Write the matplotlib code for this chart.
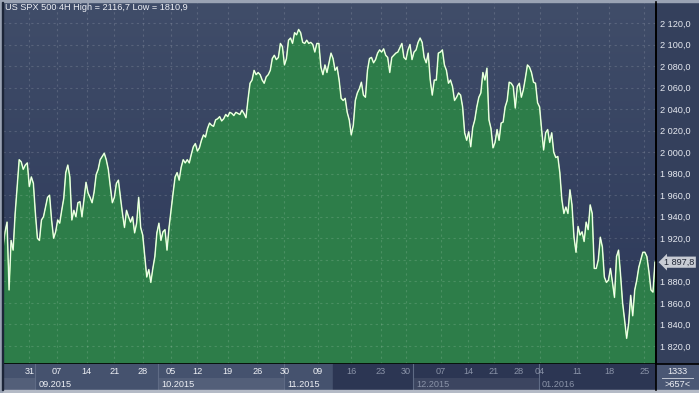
#Gráfico 4H del US SPX 500 (sep 2015 - ene 2016), estilo terminal de trading.

import numpy as np
import matplotlib
matplotlib.use("Agg")
from matplotlib import pyplot as plt
from matplotlib import transforms
from matplotlib.colors import LinearSegmentedColormap
from matplotlib.patches import Rectangle
from matplotlib.lines import Line2D

plt.rcParams['font.family'] = ['Liberation Sans', 'DejaVu Sans']

#precios de cierre 4H
precios_sep_oct = [1911, 1926, 1935, 1872, 1918, 1909, 1943, 1968, 1993, 1991,
                   1984, 1988, 1990, 1968, 1977, 1971, 1943, 1920, 1918, 1937,
                   1940, 1949, 1958, 1960, 1937, 1920, 1926, 1937, 1934, 1946,
                   1957, 1981, 1988, 1977, 1937, 1946, 1940, 1953, 1954, 1940,
                   1956, 1972, 1962, 1958, 1953, 1963, 1979, 1984, 1993, 1996,
                   1999, 1993, 1984, 1968, 1953, 1958, 1971, 1974, 1958, 1943,
                   1930, 1946, 1940, 1935, 1940, 1925, 1934, 1958, 1930, 1923,
                   1903, 1884, 1891, 1879, 1892, 1903, 1925, 1934, 1918, 1926,
                   1928, 1909, 1930, 1946, 1962, 1977, 1981, 1974, 1986, 1993,
                   1990, 1993, 1990]
precios_oct = [1998, 2005, 2008, 2001, 2004, 2011, 2016, 2014, 2022, 2027,
               2025, 2024, 2030, 2031, 2033, 2029, 2031, 2035, 2033, 2037,
               2036, 2034, 2037, 2036, 2035, 2039, 2036, 2032]
precios_nov_ene = [2049, 2064, 2067, 2076, 2072, 2074, 2072, 2067, 2064, 2070,
                   2072, 2076, 2087, 2090, 2086, 2088, 2101, 2098, 2081, 2087,
                   2104, 2106, 2101, 2111, 2109, 2114, 2111, 2102, 2101, 2104,
                   2101, 2102, 2100, 2093, 2101, 2101, 2079, 2072, 2081, 2074,
                   2083, 2092, 2087, 2076, 2079, 2067, 2050, 2048, 2050, 2037,
                   2030, 2016, 2025, 2048, 2055, 2059, 2065, 2053, 2051, 2076,
                   2087, 2088, 2083, 2086, 2092, 2095, 2093, 2096, 2090, 2088,
                   2074, 2088, 2090, 2092, 2093, 2097, 2101, 2088, 2086, 2095,
                   2100, 2086, 2093, 2095, 2102, 2106, 2102, 2088, 2083, 2092,
                   2067, 2053, 2067, 2067, 2092, 2093, 2095, 2081, 2076, 2064,
                   2067, 2061, 2048, 2051, 2055, 2053, 2042, 2018, 2011, 2019,
                   2005, 2023, 2030, 2042, 2051, 2055, 2074, 2067, 2078, 2030,
                   2022, 2004, 2009, 2021, 2011, 2027, 2028, 2042, 2048, 2065,
                   2064, 2061, 2041, 2061, 2064, 2051, 2058, 2069, 2081, 2079,
                   2074, 2065, 2064, 2046, 2042, 2021, 2002, 2018, 2021, 2009,
                   2018, 2000, 1995, 1996, 1981, 1956, 1943, 1949, 1943, 1965,
                   1951, 1921, 1907, 1931, 1923, 1926, 1917, 1935, 1928, 1951,
                   1943, 1892, 1892, 1900, 1921, 1912, 1884, 1879, 1881, 1892,
                   1879, 1865, 1903, 1909, 1886, 1860, 1844, 1827, 1841, 1867,
                   1848, 1872, 1881, 1893, 1900, 1907, 1907, 1903, 1889, 1872,
                   1870, 1897.8]
precios = np.array(precios_sep_oct + precios_oct + precios_nov_ene)

#escala de precios
niveles = np.arange(1820, 2121, 20)

#semanas (barra donde va cada etiqueta)
semanas = ['31', '07', '14', '21', '28', '05', '12', '19', '26', '30', '09',
           '16', '23', '30', '07', '14', '21', '28', '04', '11', '18', '25']
semana_barra = [13, 26.5, 41.3, 55, 69, 83, 96, 111, 125.5, 139, 155.5,
                172, 186.5, 199, 216.3, 229.7, 242.5, 254.5, 265, 283.5, 299.3, 316.7]
#meses
meses = ['09.2015', '10.2015', '11.2015', '12.2015', '01.2016']
mes_barra = [16, 76.5, 139, 202.5, 264.5]

titulo = 'US SPX 500 4H High = 2116,7 Low = 1810,9'
info_barras = ['1333', '>657<']


def fmt(v):
    return f"{v:,.1f}".replace(',', ' ').replace('.', ',')


W, H = 699, 393


def px(x0, y0, x1, y1):
    return [x0 / W, 1 - y1 / H, (x1 - x0) / W, (y1 - y0) / H]


fig = plt.figure(figsize=(W / 100, H / 100), dpi=100)
fig.patch.set_facecolor('#34405c')

n = len(precios)
x = np.arange(n)
ultimo = precios[-1]

#grafico principal
ax = fig.add_axes(px(3, 2, 656, 364))
ax.set_xlim(0, n - 0.5)
ax.set_ylim(1803.2, 2139.5)

fondo = LinearSegmentedColormap.from_list('fondo', ['#2b3758', '#404d69'])
ax.imshow(np.linspace(0, 1, 256).reshape(-1, 1), cmap=fondo, origin='lower',
          extent=[0, n - 0.5, 1803.2, 2139.5], aspect='auto', zorder=0)

ax.fill_between(x, precios, 1700, color='#2d7d49', lw=0, zorder=1)

for v in niveles:
    ax.axhline(v, color='white', alpha=0.14, lw=0.8, ls=(0, (2, 3)), zorder=2)
for b in semana_barra:
    ax.axvline(b, color='white', alpha=0.14, lw=0.8, ls=(0, (2, 3)), zorder=2)

ax.plot(x, precios, color='#b6f2a2', lw=1.1, zorder=3)
ax.plot(x, precios, color='white', lw=0.55, zorder=4)

for s in ['top', 'left']:
    ax.spines[s].set_visible(False)
for s in ['bottom', 'right']:
    ax.spines[s].set_color('black')
    ax.spines[s].set_linewidth(1.2)

#la etiqueta tapada por el marcador no se ve
ax.yaxis.tick_right()
ax.set_yticks(niveles)
ax.set_yticklabels(['' if abs(v - ultimo) < 8 else fmt(v) for v in niveles])
ax.tick_params(axis='y', length=0, pad=3, labelsize=6.6, labelcolor='#e6e9f0')
ax.set_xticks([])

#marcador del ultimo precio
mixto = transforms.blended_transform_factory(ax.transAxes, ax.transData)
ax.text(1.013, ultimo, fmt(ultimo), transform=mixto, ha='left', va='center',
        fontsize=6.6, color='#1e2534', zorder=10, clip_on=False,
        bbox=dict(boxstyle='larrow,pad=0.12', fc='#c8ccd4', ec='none'))

#panel de fechas
axb = fig.add_axes(px(3, 364, 656, 390))
axb.set_xlim(0, n - 0.5)
axb.set_ylim(0, 1)
axb.axis('off')
axb.add_patch(Rectangle((0, 0), 0.505, 1, transform=axb.transAxes, color='#45526e', zorder=0))
axb.add_patch(Rectangle((0.505, 0), 0.495, 1, transform=axb.transAxes, color='#2c3653', zorder=0))

bordes = [0] + mes_barra + [n - 0.5]
for i in range(len(bordes) - 1):
    if i % 2 == 0:
        axb.add_patch(Rectangle((bordes[i], 0), bordes[i + 1] - bordes[i], 0.46,
                                color='white', alpha=0.08, lw=0, zorder=1))
for b in mes_barra:
    axb.axvline(b, color='#5f6b85', lw=0.8, zorder=2)

limite_claro = 163
for b, s in zip(semana_barra, semanas):
    c = '#eef0f5' if b < limite_claro else '#8a93a8'
    axb.text(b, 0.7, s, ha='center', va='center', fontsize=6.6, color=c, zorder=3)
for b, m in zip(mes_barra, meses):
    c = '#eef0f5' if b < limite_claro else '#8a93a8'
    axb.text(b + 1.5, 0.22, m, ha='left', va='center', fontsize=6.6, color=c, zorder=3)

#caja inferior derecha
axi = fig.add_axes(px(656, 364, 699, 390))
axi.set_xlim(0, 1)
axi.set_ylim(0, 1)
axi.axis('off')
axi.add_patch(Rectangle((0, 0), 1, 1, color='#4a5774'))
axi.text(0.5, 0.7, info_barras[0], ha='center', va='center', fontsize=6.6, color='#eef0f5')
axi.text(0.5, 0.2, info_barras[1], ha='center', va='center', fontsize=6.6, color='#eef0f5')
axi.plot([0.15, 0.85], [0.45, 0.45], color='#c0c6d2', lw=0.7)

#marco y separadores
fig.add_artist(Line2D([656 / W, 656 / W], [1 - 390 / H, 1 - 2 / H], color='black', lw=1.2))
fig.add_artist(Line2D([656 / W, 1], [1 - 364 / H, 1 - 364 / H], color='black', lw=1.2))
fig.add_artist(Rectangle((0, 1 - 2 / H), 1, 2 / H, color='#9aa3b4', transform=fig.transFigure))
fig.add_artist(Rectangle((0, 0), 1, 3 / H, color='#b4bac6', transform=fig.transFigure))
fig.add_artist(Rectangle((0, 0), 2 / W, 1, color='#9aa3b4', transform=fig.transFigure))
fig.add_artist(Rectangle((2 / W, 3 / H), 1 / W, 1 - 5 / H, color='#1c2538', transform=fig.transFigure))

fig.text(5 / W, 1 - 8 / H, titulo, ha='left', va='center', fontsize=6.6, color='#eef0f5')

fig.savefig('out.png', dpi=100, facecolor=fig.get_facecolor())
